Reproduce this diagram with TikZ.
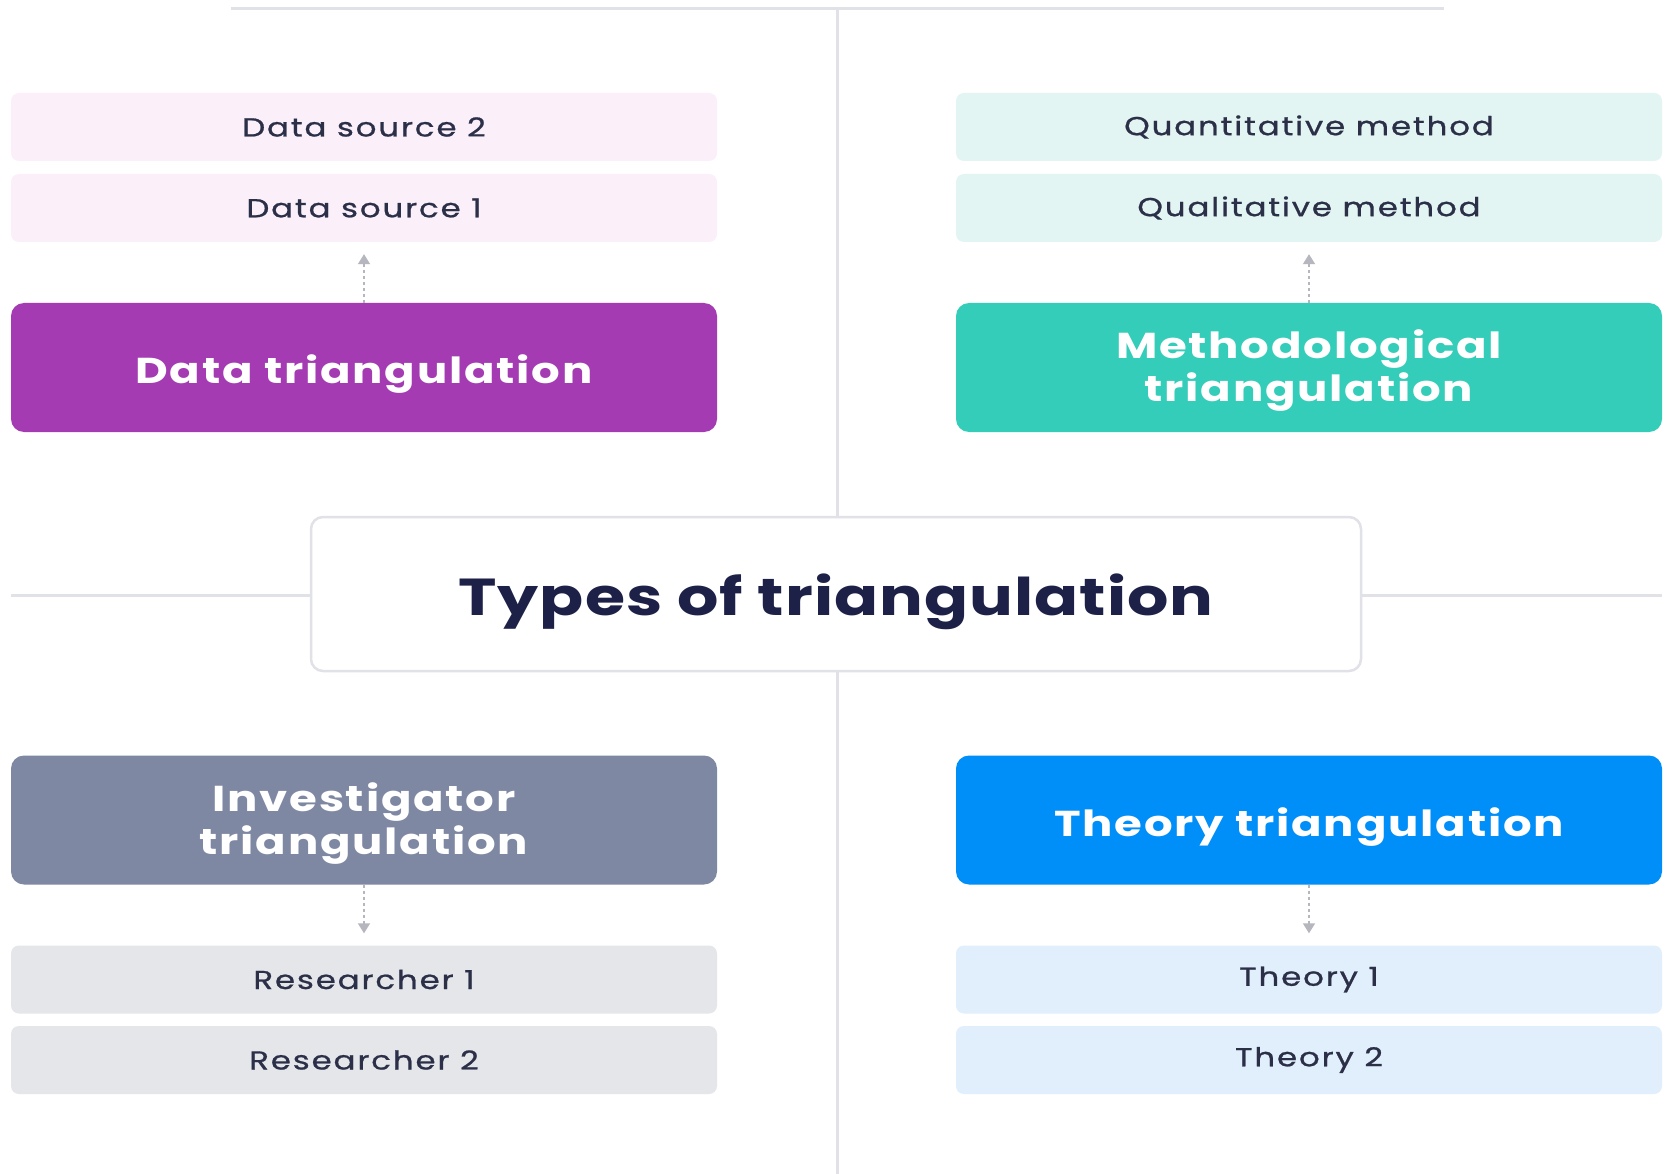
\documentclass[tikz,border=0pt]{standalone}
\usepackage{fontspec}
\setmainfont{Poppins}
\newfontfamily\headfont{Poppins}[FakeStretch=1.25, LetterSpace=5]
\newfontfamily\labfont{Poppins}[FakeStretch=1.25, LetterSpace=7, FakeBold=0.8]
\newfontfamily\titlefont{Poppins}[FakeStretch=1.25, LetterSpace=2]
\usetikzlibrary{arrows.meta}
\definecolor{linegray}{HTML}{E1E1E8}
\definecolor{navy}{HTML}{1D2147}
\definecolor{txt}{HTML}{2B3048}
\definecolor{purp}{HTML}{A43BB3}
\definecolor{purpl}{HTML}{FBEFFA}
\definecolor{teal}{HTML}{33CDB9}
\definecolor{teall}{HTML}{E2F5F2}
\definecolor{slate}{HTML}{7F88A3}
\definecolor{slatel}{HTML}{E5E6EA}
\definecolor{blu}{HTML}{008EF8}
\definecolor{blul}{HTML}{E1EEFB}
\definecolor{arrowgray}{HTML}{B5B6BE}
\tikzset{
  x=1pt, y=-1pt,
  bigbox/.style={rounded corners=13pt, minimum width=706pt, minimum height=129pt,
    text=white, font=\headfont\bfseries\fontsize{36}{43}\selectfont, align=center, inner sep=0pt},
  oneline/.style={text height=32pt, text depth=0pt},
  twoline/.style={text height=68pt, text depth=0pt},
  smallbox/.style={rounded corners=8pt, minimum width=706pt, minimum height=68pt,
    text=txt, font=\labfont\fontsize{26}{28}\selectfont, inner sep=0pt},
  divider/.style={draw=linegray, line width=3pt},
  flow/.style={draw=arrowgray, line width=1.5pt, dash pattern=on 3pt off 3pt,
    -{Triangle[length=10pt,width=12pt]}},
}
\begin{document}
\begin{tikzpicture}
\useasboundingbox[fill=white] (0,0) rectangle (1665,1174);
% center
\node[draw=linegray, line width=2.5pt, fill=white, rounded corners=12pt,
  minimum width=1050pt, minimum height=154pt, text=navy, inner sep=0pt,
  text height=42pt, text depth=0pt,
  font=\titlefont\bfseries\fontsize{52}{56}\selectfont] (center) at (836,594) {Types of triangulation};
\coordinate (topL) at (231,9);
\coordinate (topR) at (1444,9);
\coordinate (vtop) at (837,9);
\coordinate (vbot) at (837,1174);
\coordinate (hleft) at (11,595);
\coordinate (hright) at (1662,595);
\draw[divider] (topL) -- (topR);
\draw[divider] (vtop) -- (vtop |- center.north);
\draw[divider] (vbot |- center.south) -- (vbot);
\draw[divider] (hleft) -- (hleft -| center.west);
\draw[divider] (hright -| center.east) -- (hright);
% top left
\node[smallbox, fill=purpl] (ds2) at (364,127) {Data source 2};
\node[smallbox, fill=purpl] (ds1) at (364,208) {Data source 1};
\node[bigbox, oneline, fill=purp] (dt) at (364,367.5) {Data triangulation};
% top right
\node[smallbox, fill=teall] (qn) at (1309,127) {Quantitative method};
\node[smallbox, fill=teall] (ql) at (1309,208) {Qualitative method};
\node[bigbox, twoline, fill=teal] (mt) at (1309,367.5) {Methodological\\triangulation};
% bottom left
\node[bigbox, twoline, fill=slate] (it) at (364,820) {Investigator\\triangulation};
\node[smallbox, fill=slatel] (r1) at (364,979.5) {Researcher 1};
\node[smallbox, fill=slatel] (r2) at (364,1060) {Researcher 2};
% bottom right
\node[bigbox, oneline, fill=blu] (tt) at (1309,820) {Theory triangulation};
\node[smallbox, fill=blul] (t1) at (1309,979.5) {Theory 1};
\node[smallbox, fill=blul] (t2) at (1309,1060) {Theory 2};
% arrows
\draw[flow, shorten >=12pt] (dt.north) -- (ds1.south);
\draw[flow, shorten >=12pt] (mt.north) -- (ql.south);
\draw[flow, shorten >=12pt] (it.south) -- (r1.north);
\draw[flow, shorten >=12pt] (tt.south) -- (t1.north);
\end{tikzpicture}
\end{document}
